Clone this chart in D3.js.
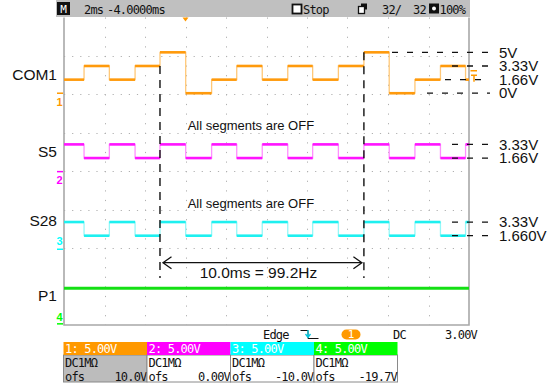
<html>
<head>
<script src="https://d3js.org/d3.v7.min.js"></script>
<style>body { margin: 0; background: #fff; }</style>
</head>
<body>
<script>
    // waveforms: time in ms, level in volts
    var edgeTimes = [0, 0.99, 2.24, 3.51, 4.74, 6.01, 7.29, 8.53, 9.79, 11.05, 12.28, 13.55, 14.81, 16.06, 17.33, 18.59, 19.83];
    var com1Volts = [1.66, 3.33, 1.66, 3.33, 5, 0, 1.66, 3.33, 1.66, 3.33, 1.66, 3.33, 5, 0, 1.66, 3.33, 1.66];
    var s5Volts = [3.33, 1.66, 3.33, 1.66, 3.33, 1.66, 3.33, 1.66, 3.33, 1.66, 3.33, 1.66, 3.33, 1.66, 3.33, 1.66, 3.33];
    var s28Volts = [3.33, 1.66, 3.33, 1.66, 3.33, 1.66, 3.33, 1.66, 3.33, 1.66, 3.33, 1.66, 3.33, 1.66, 3.33, 1.66, 3.33];
    var p1Times = [0];
    var p1Volts = [4.35];

    var traceNames = ["COM1", "S5", "S28", "P1"];
    var com1Levels = [5, 3.33, 1.66, 0];
    var com1LevelText = ["5V", "3.33V", "1.66V", "0V"];
    var s5Levels = [3.33, 1.66];
    var s5LevelText = ["3.33V", "1.66V"];
    var s28Levels = [3.33, 1.66];
    var s28LevelText = ["3.33V", "1.660V"];

    var cursorTimes = [4.74, 14.81];
    var measureText = "10.0ms = 99.2Hz";
    var noteText = "All segments are OFF";

    var chNames = ["1", "2", "3", "4"];
    var chScaleText = ["1: 5.00V", "2: 5.00V", "3: 5.00V", "4: 5.00V"];
    var chCouplingText = ["DC1M\u03A9", "DC1M\u03A9", "DC1M\u03A9", "DC1M\u03A9"];
    var chOffsetText = ["10.0V", "0.00V", "-10.0V", "-19.7V"];

    var timebaseText = ["2ms", "-4.0000ms"];
    var runText = "Stop";
    var acqText = ["32/", "32"];
    var zoomText = "100%";
    var trigText = ["Edge", "1", "DC", "3.00V"];
    var trigTime = 6.0, trigLevel = 3.0;

    // layout
    var width = 558, height = 383;
    var plot = {left: 64, right: 469, top: 17.5, bottom: 325};
    var chGroundDiv = [2.03, -0.01, -2.03, -3.97];
    var voltsPerDiv = 4.7;
    var chColors = ["#ff9900", "#ff00ff", "#00ffff", "#00ff00"];
    var traceColors = ["#ff9a0c", "#ff14ff", "#1ef0f0", "#14e014"];
    var edgeColors = ["#ffc878", "#ff90ff", "#96f8f8", "#90f090"];
    var mono = "DejaVu Sans Mono, monospace";
    var sans = "Liberation Sans, Arial, sans-serif";
    var monoSize = 12, monoSpacing = -0.8;

    var svg = d3.select("body").append("svg")
        .attr("width", width)
        .attr("height", height);

    var x = d3.scaleLinear().domain([0, 20]).range([plot.left, plot.right]);
    var gy = d3.scaleLinear().domain([4, -4]).range([plot.top, plot.bottom]);

    function yv(ch, v) { return gy(chGroundDiv[ch] + v / voltsPerDiv); }

    // graticule
    var grid = svg.append("g");
    grid.selectAll(".vg").data(d3.range(2, 20, 2)).enter().append("line")
        .attr("x1", function (d) { return Math.round(x(d)) + 0.5; })
        .attr("x2", function (d) { return Math.round(x(d)) + 0.5; })
        .attr("y1", plot.top).attr("y2", plot.bottom)
        .attr("stroke", "#b0b0b0").attr("stroke-width", 1)
        .attr("stroke-dasharray", "1.2,8.4");
    grid.selectAll(".hg").data(d3.range(-3, 4)).enter().append("line")
        .attr("y1", function (d) { return Math.round(gy(d)) + 0.5; })
        .attr("y2", function (d) { return Math.round(gy(d)) + 0.5; })
        .attr("x1", plot.left).attr("x2", plot.right)
        .attr("stroke", "#b0b0b0").attr("stroke-width", 1)
        .attr("stroke-dasharray", "1.2,6.9");
    grid.append("path")
        .attr("d", "M" + plot.left + "," + plot.top + "V" + plot.bottom + "H" + plot.right + "V" + plot.top)
        .attr("fill", "none").attr("stroke", "#a8a8a8").attr("stroke-width", 1.6);

    // traces
    var traces = [
        {times: edgeTimes, volts: com1Volts},
        {times: edgeTimes, volts: s5Volts},
        {times: edgeTimes, volts: s28Volts},
        {times: p1Times, volts: p1Volts}
    ];

    traces.forEach(function (tr, ch) {
        var pts = tr.times.map(function (t, i) { return [t, tr.volts[i]]; });
        pts.push([20, tr.volts[tr.volts.length - 1]]);
        var line = d3.line()
            .x(function (d) { return x(d[0]); })
            .y(function (d) { return yv(ch, d[1]); })
            .curve(d3.curveStepAfter);
        svg.append("path").datum(pts)
            .attr("fill", "none")
            .attr("stroke", edgeColors[ch])
            .attr("stroke-width", 1.3)
            .attr("d", line);
        var segs = tr.volts.map(function (v, i) {
            return {t0: tr.times[i], t1: i + 1 < tr.times.length ? tr.times[i + 1] : 20, v: v};
        });
        svg.append("g").selectAll("line").data(segs).enter().append("line")
            .attr("x1", function (d) { return x(d.t0); })
            .attr("x2", function (d) { return x(d.t1); })
            .attr("y1", function (d) { return yv(ch, d.v); })
            .attr("y2", function (d) { return yv(ch, d.v); })
            .attr("stroke", traceColors[ch])
            .attr("stroke-width", ch == 3 ? 3 : 2.6);
    });

    // channel ground markers
    var markerDigitY = [106, 184, 244.5, 320.5];
    chNames.forEach(function (n, ch) {
        var g0 = yv(ch, 0);
        svg.append("line")
            .attr("x1", 57).attr("x2", 63)
            .attr("y1", g0).attr("y2", g0)
            .attr("stroke", chColors[ch]).attr("stroke-width", 1.5);
        svg.append("text")
            .attr("x", 59.5).attr("y", markerDigitY[ch])
            .attr("text-anchor", "middle")
            .attr("font-family", sans).attr("font-size", 11).attr("font-weight", "bold")
            .attr("fill", chColors[ch])
            .text(n);
    });

    // trace names on the left
    var nameY = [80, 157.3, 225.7, 301];
    svg.selectAll(".name").data(traceNames).enter().append("text")
        .attr("x", 57)
        .attr("y", function (d, i) { return nameY[i]; })
        .attr("text-anchor", "end")
        .attr("font-family", sans).attr("font-size", 15.5)
        .attr("fill", "#111")
        .text(function (d) { return d; });

    // level guides on the right
    var levelSets = [
        {ch: 0, levels: com1Levels, text: com1LevelText, start: [392, 452, 445, 427]},
        {ch: 1, levels: s5Levels, text: s5LevelText, start: [452, 452]},
        {ch: 2, levels: s28Levels, text: s28LevelText, start: [452, 452]}
    ];
    levelSets.forEach(function (set) {
        set.levels.forEach(function (v, i) {
            var yy = yv(set.ch, v);
            svg.append("line")
                .attr("x1", set.start[i]).attr("x2", 490)
                .attr("y1", yy).attr("y2", yy)
                .attr("stroke", "#111").attr("stroke-width", 1.3)
                .attr("stroke-dasharray", "6,9");
            svg.append("text")
                .attr("x", 499).attr("y", yy + 5.2)
                .attr("font-family", sans).attr("font-size", 15)
                .attr("fill", "#111")
                .text(set.text[i]);
        });
    });

    // notes
    [s5Volts, s28Volts].forEach(function (d, i) {
        svg.append("text")
            .attr("x", 187.7).attr("y", yv(i + 1, 3.33) - 14.5)
            .attr("font-family", sans).attr("font-size", 13)
            .attr("fill", "#111")
            .text(noteText);
    });

    // cursors and period measurement
    var cursorTop = [yv(0, 3.33), yv(0, 5)];
    var cursorBottom = 278;
    cursorTimes.forEach(function (t, i) {
        svg.append("line")
            .attr("x1", x(t)).attr("x2", x(t))
            .attr("y1", cursorTop[i]).attr("y2", cursorBottom)
            .attr("stroke", "#111").attr("stroke-width", 1.4)
            .attr("stroke-dasharray", "8,6");
    });
    var ay = 262.7, ax0 = x(cursorTimes[0]) + 3, ax1 = x(cursorTimes[1]) - 2;
    svg.append("path")
        .attr("d", "M" + ax0 + "," + ay + "H" + ax1 +
            "M" + (ax0 + 8.5) + "," + (ay - 6) + "L" + ax0 + "," + ay + "L" + (ax0 + 8.5) + "," + (ay + 6) +
            "M" + (ax1 - 8.5) + "," + (ay - 6) + "L" + ax1 + "," + ay + "L" + (ax1 - 8.5) + "," + (ay + 6))
        .attr("fill", "none").attr("stroke", "#111").attr("stroke-width", 1.3);
    svg.append("text")
        .attr("x", (ax0 + ax1) / 2 - 4).attr("y", 278.3)
        .attr("text-anchor", "middle")
        .attr("font-family", sans).attr("font-size", 15.5)
        .attr("fill", "#111")
        .text(measureText);

    // trigger position and level markers
    var tx = x(trigTime);
    svg.append("path")
        .attr("d", "M" + (tx - 3) + "," + plot.top + "H" + (tx + 3) + "L" + tx + "," + (plot.top + 4) + "Z")
        .attr("fill", chColors[0]);
    var ty = yv(0, trigLevel) + 2;
    svg.append("path")
        .attr("d", "M470.5," + ty + "H477M471," + (ty + 4.5) + "H477M474," + (ty + 4.5) + "V" + (ty + 11))
        .attr("fill", "none").attr("stroke", chColors[0]).attr("stroke-width", 1.5);

    // top status bar
    var topBar = svg.append("g");
    topBar.append("rect").attr("x", 56).attr("y", 0).attr("width", 414).attr("height", 17).attr("fill", "#c0c0c0");
    topBar.append("rect").attr("x", 57).attr("y", 2).attr("width", 13).attr("height", 13).attr("fill", "#111");
    topBar.append("text").attr("x", 63.5).attr("y", 13).attr("text-anchor", "middle")
        .attr("font-family", mono).attr("font-size", 11).attr("fill", "#fff").text("M");
    topBar.append("rect").attr("x", 292.5).attr("y", 4.5).attr("width", 9).attr("height", 9)
        .attr("fill", "#fff").attr("stroke", "#111").attr("stroke-width", 1.8);
    topBar.append("rect").attr("x", 361).attr("y", 3.5).attr("width", 6).attr("height", 6).attr("fill", "#111");
    topBar.append("rect").attr("x", 358.5).attr("y", 6.5).attr("width", 6).attr("height", 7)
        .attr("fill", "#fff").attr("stroke", "#111").attr("stroke-width", 1.3);
    topBar.append("rect").attr("x", 429).attr("y", 3.5).attr("width", 10).attr("height", 10).attr("fill", "#111");
    topBar.append("circle").attr("cx", 434).attr("cy", 8.5).attr("r", 2).attr("fill", "#fff");
    var topTexts = [
        {x: 84, s: timebaseText[0]}, {x: 107, s: timebaseText[1]}, {x: 303, s: runText},
        {x: 382, s: acqText[0]}, {x: 413, s: acqText[1]}, {x: 439.5, s: zoomText}
    ];
    topBar.selectAll(".tt").data(topTexts).enter().append("text")
        .attr("x", function (d) { return d.x; }).attr("y", 14)
        .attr("font-family", mono).attr("font-size", monoSize).attr("letter-spacing", monoSpacing)
        .attr("fill", "#111")
        .text(function (d) { return d.s; });

    // trigger info row
    var trow = svg.append("g").attr("font-family", mono).attr("font-size", monoSize).attr("fill", "#111");
    trow.append("text").attr("x", 263).attr("y", 338.5).attr("letter-spacing", monoSpacing).text(trigText[0]);
    trow.append("path").attr("d", "M300.5,330.5H308V338.5H318.5")
        .attr("fill", "none").attr("stroke", "#111").attr("stroke-width", 1);
    trow.append("path").attr("d", "M308,330V336M305.5,334L308,337.5L310.5,334")
        .attr("fill", "none").attr("stroke", "#00c8e0").attr("stroke-width", 1.3);
    trow.append("rect").attr("x", 341.5).attr("y", 329.5).attr("width", 19).attr("height", 10).attr("rx", 5)
        .attr("fill", chColors[0]);
    trow.append("text").attr("x", 351).attr("y", 338).attr("text-anchor", "middle").attr("font-size", 11)
        .attr("fill", "#fff").text(trigText[1]);
    trow.append("text").attr("x", 393).attr("y", 338.5).attr("letter-spacing", monoSpacing).text(trigText[2]);
    trow.append("text").attr("x", 477).attr("y", 338.5).attr("text-anchor", "end").attr("letter-spacing", monoSpacing).text(trigText[3]);

    // channel info boxes
    var boxW = 83.5, boxTop = 342, headH = 13;
    var boxes = svg.append("g").selectAll("g").data(chNames).enter().append("g")
        .attr("transform", function (d, i) { return "translate(" + (63 + i * boxW) + ",0)"; });
    boxes.append("rect")
        .attr("x", 0.5).attr("y", boxTop + headH).attr("width", boxW).attr("height", height - boxTop - headH - 1)
        .attr("fill", function (d, i) { return i == 0 ? "#bcbcbc" : "#fff"; })
        .attr("stroke", "#8a8a8a").attr("stroke-width", 1);
    boxes.append("rect")
        .attr("x", 0.5).attr("y", boxTop).attr("width", boxW).attr("height", headH)
        .attr("fill", function (d, i) { return chColors[i]; });
    boxes.append("text")
        .attr("x", 2).attr("y", boxTop + 11)
        .attr("font-family", mono).attr("font-size", monoSize).attr("letter-spacing", monoSpacing)
        .attr("fill", "#fff")
        .text(function (d, i) { return chScaleText[i]; });
    boxes.append("text")
        .attr("x", 2).attr("y", boxTop + 24.5)
        .attr("font-family", mono).attr("font-size", monoSize).attr("letter-spacing", monoSpacing)
        .attr("fill", "#111")
        .text(function (d, i) { return chCouplingText[i]; });
    boxes.append("text")
        .attr("x", 2).attr("y", boxTop + 38.5)
        .attr("font-family", mono).attr("font-size", monoSize).attr("letter-spacing", monoSpacing)
        .attr("fill", "#111")
        .text("ofs");
    boxes.append("text")
        .attr("x", boxW).attr("y", boxTop + 38.5)
        .attr("text-anchor", "end")
        .attr("font-family", mono).attr("font-size", monoSize).attr("letter-spacing", monoSpacing)
        .attr("fill", "#111")
        .text(function (d, i) { return chOffsetText[i]; });
</script>
</body>
</html>
